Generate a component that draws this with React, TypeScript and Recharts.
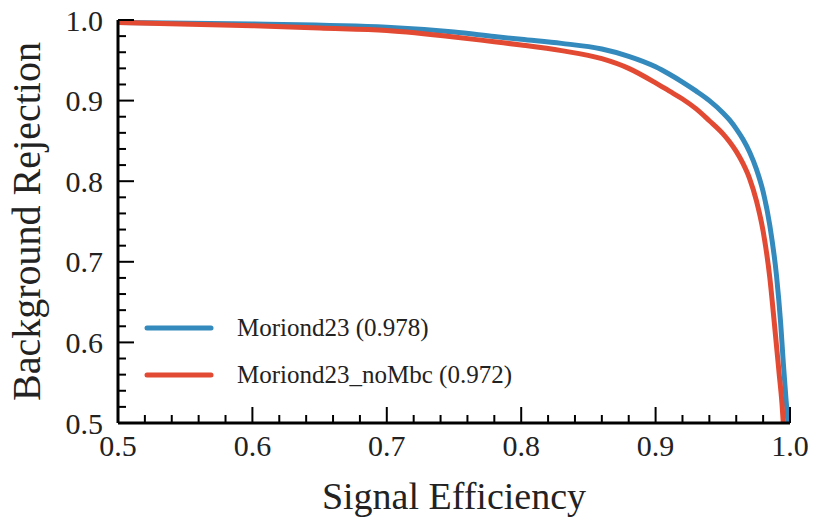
import React from "react";
import { LineChart, Line, XAxis, YAxis } from "recharts";

// ROC curves
const moriondEff = [
  0.5, 0.6, 0.7, 0.75, 0.78, 0.8, 0.83, 0.86, 0.88, 0.9, 0.91, 0.92, 0.93, 0.94, 0.95,
  0.955, 0.96, 0.965, 0.97, 0.975, 0.98, 0.985, 0.99, 0.993, 0.995, 0.997, 0.9985,
];
const moriondRej = [
  0.997, 0.995, 0.991, 0.985, 0.9795, 0.976, 0.971, 0.964, 0.955, 0.942, 0.933, 0.923, 0.912,
  0.9, 0.885, 0.876, 0.865, 0.852, 0.836, 0.815, 0.787, 0.745, 0.682, 0.625, 0.575, 0.53, 0.5,
];

const noMbcEff = [
  0.5, 0.6, 0.65, 0.7, 0.75, 0.78, 0.8, 0.83, 0.86, 0.88, 0.9, 0.91, 0.92, 0.93, 0.94, 0.95,
  0.955, 0.96, 0.965, 0.97, 0.975, 0.98, 0.985, 0.988, 0.99, 0.992, 0.994, 0.995,
];
const noMbcRej = [
  0.997, 0.993, 0.99, 0.987, 0.979, 0.973, 0.969, 0.962, 0.952, 0.94, 0.922, 0.912, 0.902,
  0.89, 0.875, 0.859, 0.849, 0.837, 0.822, 0.803, 0.776, 0.738, 0.68, 0.63, 0.595, 0.56,
  0.525, 0.5,
];

const seriesNames = ["Moriond23 (0.978)", "Moriond23_noMbc (0.972)"];
const seriesColors = ["#348ABD", "#E24A33"];

const xTicks = [0.5, 0.52, 0.54, 0.56, 0.58, 0.6, 0.62, 0.64, 0.66, 0.68, 0.7, 0.72, 0.74,
  0.76, 0.78, 0.8, 0.82, 0.84, 0.86, 0.88, 0.9, 0.92, 0.94, 0.96, 0.98, 1.0];
const yTicks = [0.5, 0.52, 0.54, 0.56, 0.58, 0.6, 0.62, 0.64, 0.66, 0.68, 0.7, 0.72, 0.74,
  0.76, 0.78, 0.8, 0.82, 0.84, 0.86, 0.88, 0.9, 0.92, 0.94, 0.96, 0.98, 1.0];

const moriond = moriondEff.map((x, i) => ({ x, y: moriondRej[i] }));
const noMbc = noMbcEff.map((x, i) => ({ x, y: noMbcRej[i] }));

const FONT = "Liberation Serif, serif";
const isMajor = (v: number) => Math.abs(v * 10 - Math.round(v * 10)) < 1e-6;

const XTick = ({ x, y, payload }: any) => {
  const major = isMajor(payload.value);
  return (
    <g>
      <line x1={x} x2={x} y1={y} y2={y - (major ? 16 : 8)} stroke="#000" strokeWidth={2} />
      {major && (
        <text x={x} y={y + 33} textAnchor="middle" fontSize={30} fontFamily={FONT} fill="#222">
          {payload.value.toFixed(1)}
        </text>
      )}
    </g>
  );
};

const YTick = ({ x, y, payload }: any) => {
  const major = isMajor(payload.value);
  return (
    <g>
      <line x1={x} x2={x + (major ? 16 : 8)} y1={y} y2={y} stroke="#000" strokeWidth={2} />
      {major && (
        <text x={x - 15} y={y} dy="0.35em" textAnchor="end" fontSize={30} fontFamily={FONT} fill="#222">
          {payload.value.toFixed(1)}
        </text>
      )}
    </g>
  );
};

// legend drawn as an overlay so it takes no room from the plot
const LegendBox = () => (
  <div style={{ position: "absolute", left: 143, top: 304, fontFamily: FONT }}>
    {seriesNames.map((name, i) => (
      <div key={name} style={{ display: "flex", alignItems: "center", height: 47 }}>
        <svg width={72} height={10} style={{ marginRight: 22, flexShrink: 0 }}>
          <line x1={4} x2={68} y1={5} y2={5} stroke={seriesColors[i]} strokeWidth={5} strokeLinecap="round" />
        </svg>
        <span style={{ fontSize: 25, color: "#222", whiteSpace: "nowrap" }}>{name}</span>
      </div>
    ))}
  </div>
);

export default function App() {
  return (
    <div style={{ position: "absolute", left: 0, top: 0, width: 814, height: 521, background: "#fff" }}>
      <LineChart
        width={814}
        height={521}
        margin={{ top: 20, right: 24, bottom: 0, left: 0 }}
      >
        <XAxis
          dataKey="x"
          type="number"
          domain={[0.5, 1]}
          allowDataOverflow
          ticks={xTicks}
          interval={0}
          tick={<XTick />}
          tickLine={false}
          tickSize={0}
          tickMargin={0}
          height={98}
          axisLine={{ stroke: "#000", strokeWidth: 3 }}
          label={{ value: "Signal Efficiency", position: "insideBottom", offset: 12, fontSize: 38, fontFamily: FONT, fill: "#222" }}
        />
        <XAxis
          xAxisId="top"
          orientation="top"
          dataKey="x"
          type="number"
          domain={[0.5, 1]}
          allowDataOverflow
          tick={false}
          tickLine={false}
          height={0}
          axisLine={{ stroke: "#000", strokeWidth: 3 }}
        />
        <YAxis
          dataKey="y"
          type="number"
          domain={[0.5, 1]}
          allowDataOverflow
          ticks={yTicks}
          interval={0}
          tick={<YTick />}
          tickLine={false}
          tickSize={0}
          tickMargin={0}
          width={118}
          axisLine={{ stroke: "#000", strokeWidth: 3 }}
          label={{ value: "Background Rejection", angle: -90, position: "insideLeft", offset: 26, fontSize: 40, fontFamily: FONT, fill: "#222", style: { textAnchor: "middle" } }}
        />
        <YAxis
          yAxisId="right"
          orientation="right"
          dataKey="y"
          type="number"
          domain={[0.5, 1]}
          allowDataOverflow
          tick={false}
          tickLine={false}
          width={0}
          axisLine={{ stroke: "#000", strokeWidth: 3 }}
        />
        <Line
          data={moriond}
          dataKey="y"
          name={seriesNames[0]}
          type="monotone"
          stroke={seriesColors[0]}
          strokeWidth={5}
          dot={false}
          isAnimationActive={false}
        />
        <Line
          data={noMbc}
          dataKey="y"
          name={seriesNames[1]}
          type="monotone"
          stroke={seriesColors[1]}
          strokeWidth={5}
          dot={false}
          isAnimationActive={false}
        />
      </LineChart>
      <LegendBox />
    </div>
  );
}
